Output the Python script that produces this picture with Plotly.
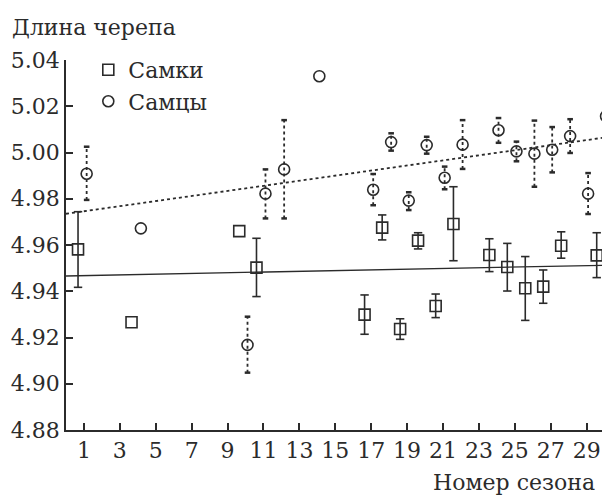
import plotly.graph_objects as go

# Females (Самки)
f_x = [0.67, 3.65, 9.65, 10.61, 16.63, 17.61, 18.61, 19.61, 20.59, 21.58,
       23.58, 24.58, 25.58, 26.58, 27.58, 29.56]
f_y = [4.9581, 4.9266, 4.9660, 4.9502, 4.9299, 4.9675, 4.9237, 4.9619, 4.9336, 4.9691,
       4.9557, 4.9505, 4.9413, 4.9420, 4.9597, 4.9555]
f_hi = [4.9744, None, None, 4.9629, 4.9384, 4.9730, 4.9281, 4.9653, 4.9388, 4.9852,
        4.9627, 4.9607, 4.9550, 4.9492, 4.9657, 4.9653]
f_lo = [4.9417, None, None, 4.9377, 4.9214, 4.9622, 4.9192, 4.9583, 4.9286, 4.9532,
        4.9485, 4.9401, 4.9274, 4.9348, 4.9543, 4.9459]

# Males (Самцы)
m_x = [1.15, 4.17, 10.11, 11.11, 12.15, 14.11, 17.11, 18.11, 19.09, 20.09, 21.09,
       22.09, 24.09, 25.09, 26.09, 27.08, 28.08, 29.08, 30.08]
m_y = [4.9908, 4.9672, 4.9168, 4.9822, 4.9927, 5.0330, 4.9839, 5.0045, 4.9792, 5.0032,
       4.9891, 5.0034, 5.0096, 5.0005, 4.9995, 5.0012, 5.0071, 4.9822, 5.0157]
m_hi = [5.0025, None, 4.9290, 4.9927, 5.0140, None, 4.9907, 5.0083, 4.9828, 5.0068,
        4.9939, 5.0140, 5.0149, 5.0047, 5.0138, 5.0110, 5.0144, 4.9911, 5.0256]
m_lo = [4.9795, None, 4.9048, 4.9715, 4.9715, None, 4.9772, 5.0008, 4.9751, 4.9995,
        4.9841, 4.9929, 5.0042, 4.9962, 4.9852, 4.9914, 4.9998, 4.9734, 5.0057]

# Trend lines (value at the axis ends)
trend_x = [0, 30.3]
f_trend = [4.9466, 4.9513]
m_trend = [4.9735, 5.0068]

x_ticks = list(range(1, 30, 2))
y_ticks = [4.88, 4.90, 4.92, 4.94, 4.96, 4.98, 5.00, 5.02, 5.04]

INK = "#2b2b2b"
FONT = "DejaVu Serif"
FS = 22

fig = go.Figure()

fig.add_trace(go.Scatter(x=trend_x, y=f_trend, mode="lines",
                         line=dict(color=INK, width=1.3), showlegend=False, hoverinfo="skip"))
fig.add_trace(go.Scatter(x=trend_x, y=m_trend, mode="lines",
                         line=dict(color=INK, width=1.8, dash="dot"), showlegend=False, hoverinfo="skip"))


def err_segments(xs, los, his):
    ex, ey, cx, cy = [], [], [], []
    for x, lo, hi in zip(xs, los, his):
        if lo is None:
            continue
        ex += [x, x, None]
        ey += [lo, hi, None]
        cx += [x, x]
        cy += [lo, hi]
    return ex, ey, cx, cy


ex, ey, cx, cy = err_segments(f_x, f_lo, f_hi)
fig.add_trace(go.Scatter(x=ex, y=ey, mode="lines", line=dict(color=INK, width=1.6),
                         showlegend=False, hoverinfo="skip"))
fig.add_trace(go.Scatter(x=cx, y=cy, mode="markers",
                         marker=dict(symbol="line-ew", size=6, color=INK, line=dict(color=INK, width=1.6)),
                         showlegend=False, hoverinfo="skip"))

ex, ey, cx, cy = err_segments(m_x, m_lo, m_hi)
fig.add_trace(go.Scatter(x=ex, y=ey, mode="lines",
                         line=dict(color=INK, width=1.8, dash="dot"),
                         showlegend=False, hoverinfo="skip"))
fig.add_trace(go.Scatter(x=cx, y=cy, mode="markers",
                         marker=dict(symbol="line-ew", size=4, color=INK, line=dict(color=INK, width=2.5)),
                         showlegend=False, hoverinfo="skip"))

fig.add_trace(go.Scatter(
    x=f_x, y=f_y, mode="markers", name="Самки",
    marker=dict(symbol="square-open", size=11, color=INK, line=dict(color=INK, width=1.6)),
))
fig.add_trace(go.Scatter(
    x=m_x, y=m_y, mode="markers", name="Самцы",
    marker=dict(symbol="circle-open", size=11, color=INK, line=dict(color=INK, width=1.6)),
))

fig.add_annotation(text="Длина черепа", xref="paper", yref="paper",
                   x=-0.103, y=1.087, xanchor="left", yanchor="middle",
                   showarrow=False, font=dict(family=FONT, size=FS, color=INK))
fig.add_annotation(text="Номер сезона", xref="paper", yref="paper",
                   x=0.976, y=-0.143, xanchor="right", yanchor="middle",
                   showarrow=False, font=dict(family=FONT, size=FS, color=INK))

fig.update_layout(
    width=602, height=487,
    margin=dict(l=58, r=0, t=52, b=65),
    paper_bgcolor="white", plot_bgcolor="white",
    font=dict(family=FONT, size=FS, color=INK),
    showlegend=True,
    legend=dict(x=0.041, y=1.03, xanchor="left", yanchor="top",
                bgcolor="rgba(0,0,0,0)", font=dict(family=FONT, size=FS, color=INK),
                tracegroupgap=0, itemwidth=30),
    xaxis=dict(range=[0, 30.3], tickvals=x_ticks, ticks="inside", ticklen=7, tickwidth=1.5,
               tickcolor=INK, showline=True, linecolor=INK, linewidth=1.5,
               showgrid=False, zeroline=False, tickfont=dict(family=FONT, size=FS)),
    yaxis=dict(range=[4.88, 5.04], tickvals=y_ticks, tickformat=".2f", ticks="inside",
               ticklen=7, tickwidth=1.5, tickcolor=INK, showline=True, linecolor=INK,
               linewidth=1.5, showgrid=False, zeroline=False, tickfont=dict(family=FONT, size=FS)),
)

fig.write_html("out.html")
